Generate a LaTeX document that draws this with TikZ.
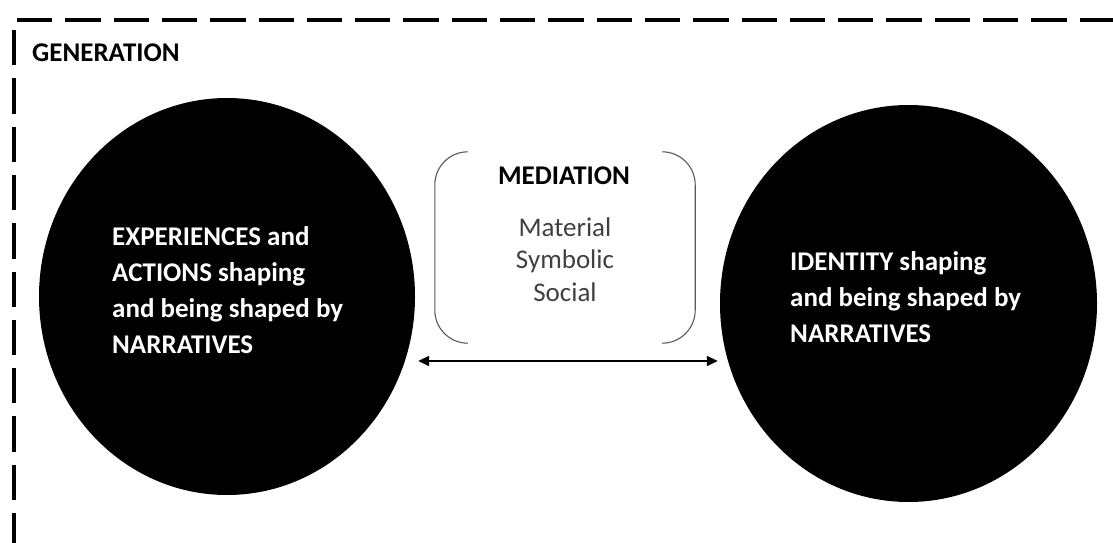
\documentclass[tikz,border=0pt]{standalone}
\usepackage{fontspec}
\setmainfont{Carlito}
\usepackage{xcolor}
\usetikzlibrary{positioning}
\usetikzlibrary{shapes.geometric,arrows.meta}
\definecolor{textgray}{rgb}{0.25,0.25,0.25}
\definecolor{linegray}{rgb}{0.35,0.35,0.35}

\begin{document}
\begin{tikzpicture}[x=1pt, y=-1pt,
  frame/.style = {line width=4pt, dash pattern=on 35.3pt off 13pt},
  blob/.style = {ellipse, fill=black, inner sep=0, minimum width=376, minimum height=397},
  blobtext/.style = {font=\fontsize{27}{36}\selectfont\bfseries, text=white, align=left, inner sep=0, anchor=base west},
  bracket/.style = {draw=linegray, line width=1.1pt, rounded corners=33pt},
  link/.style = {{Triangle[length=11pt,width=10pt]}-{Triangle[length=11pt,width=10pt]}, line width=2pt}
]
\clip (0,0) rectangle (1113,543);
% dashed frame
\draw[frame] (17,20) -- (1140,20);
\draw[frame] (14,30) -- (14,570);
\node[font=\fontsize{27}{32}\selectfont\bfseries, anchor=base west, inner sep=0] (gen) at (32,62) {GENERATION};

% the two circles
\node[blob] (exp) at (227,296.5) {};
\node[blob, minimum width=377] (ident) at (908.5,303.5) {};
\node[blobtext] (expText) at (112,353) {EXPERIENCES and\\ACTIONS shaping\\and being shaped by\\NARRATIVES};
\node[blobtext] (identText) at (790,342) {IDENTITY shaping\\and being shaped by\\NARRATIVES};

% mediation
\node[minimum width=260, minimum height=191, inner sep=0] (medBox) at (565,247.5) {};
\draw[bracket] ([xshift=33pt]medBox.north west) -- (medBox.north west) -- (medBox.south west) -- ([xshift=33pt]medBox.south west);
\draw[bracket] ([xshift=-33pt]medBox.north east) -- (medBox.north east) -- (medBox.south east) -- ([xshift=-33pt]medBox.south east);
\node[font=\fontsize{27}{32}\selectfont\bfseries, anchor=base, inner sep=0] (medTitle) at (564,184) {MEDIATION};
\node[font=\fontsize{27}{32.5}\selectfont, text=textgray, align=center, anchor=base, inner sep=0] (medItems) at (565,301) {Material\\Symbolic\\Social};

% arrow between the circles
\coordinate (aL) at ([xshift=3pt]exp.east |- 0,361);
\coordinate (aR) at ([xshift=-2pt]ident.west |- 0,361);
\draw[link] (aL) -- (aR);
\end{tikzpicture}
\end{document}
